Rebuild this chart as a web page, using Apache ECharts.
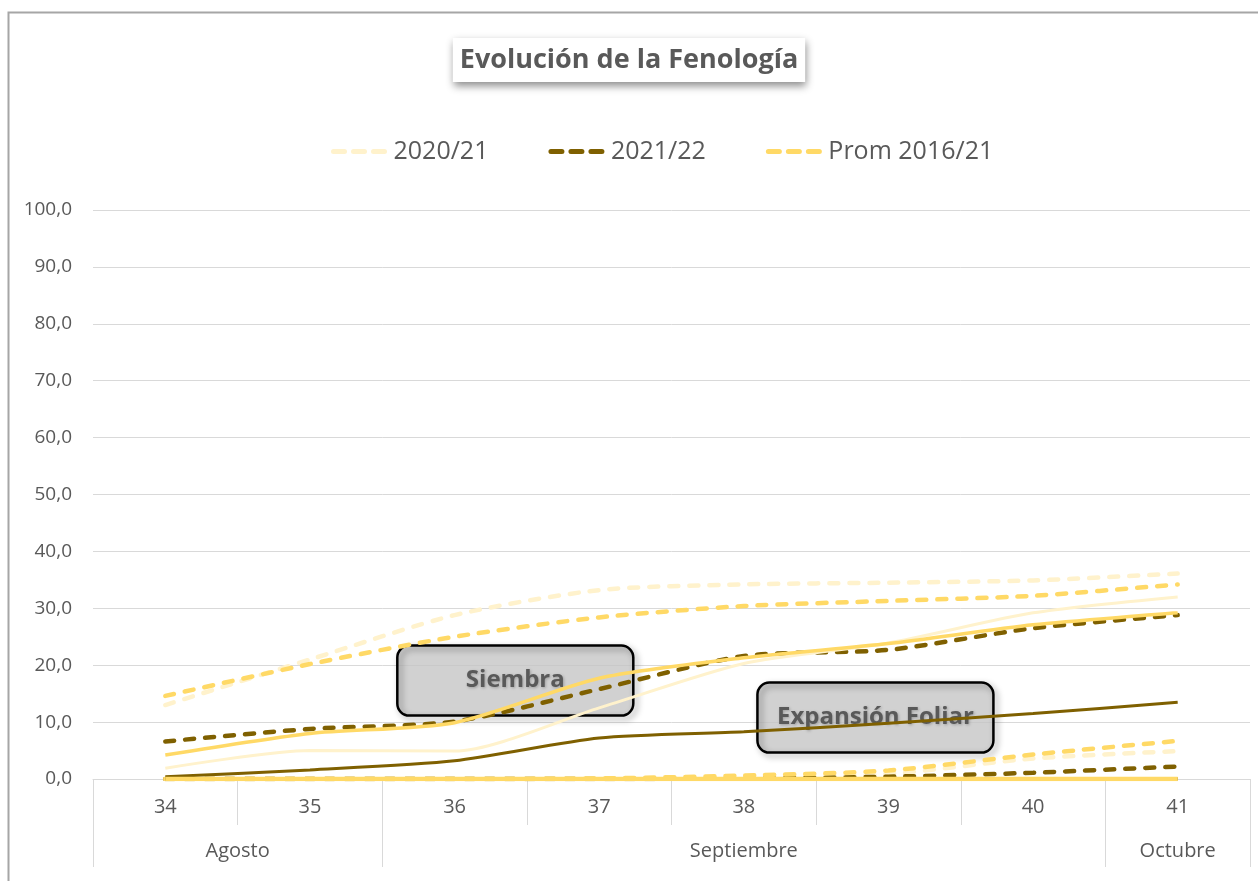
<!DOCTYPE html>
<html>
<head>
<meta charset="utf-8">
<script src="https://cdn.jsdelivr.net/npm/echarts@6/dist/echarts.min.js"></script>
<style>
html,body{margin:0;padding:0;background:#fff;}
#chart{width:1258px;height:881px;}
</style>
</head>
<body>
<div id="chart"></div>
<script>
// ---- data ----
const weeks = ['34', '35', '36', '37', '38', '39', '40', '41'];
const yTicks = [0, 10, 20, 30, 40, 50, 60, 70, 80, 90, 100];
const monthLabels = ['Agosto', 'Septiembre', 'Octubre'];
const monthCenters = [34.5, 38, 41];
const monthBounds = [33.5, 35.5, 40.5, 41.5];

// Siembra (dashed, upper group)
const siembra2020 = [13.0, 21.0, 28.8, 33.2, 34.2, 34.5, 34.9, 36.1];
const siembra2021 = [6.6, 8.8, 10.1, 15.8, 21.6, 22.7, 26.5, 28.8];
const siembraProm = [14.6, 20.2, 25.0, 28.4, 30.4, 31.3, 32.2, 34.2];

// Emergencia (solid, middle group)
const emerg2020 = [1.9, 5.0, 4.9, 12.5, 20.3, 23.9, 29.2, 32.0];
const emerg2021 = [0.4, 1.6, 3.2, 7.2, 8.3, 9.8, 11.5, 13.5];
const emergProm = [4.2, 8.0, 9.9, 17.7, 21.3, 23.8, 27.1, 29.2];

// Expansión foliar (dashed, lower group)
const expan2020 = [0, 0, 0, 0, 0.3, 0.9, 3.6, 4.9];
const expan2021 = [0, 0, 0, 0, 0.1, 0.4, 1.1, 2.2];
const expanProm = [0, 0, 0, 0.1, 0.6, 1.5, 4.3, 6.7];

// Later stage (solid, at zero)
const later2020 = [0, 0, 0, 0, 0, 0, 0, 0];
const later2021 = [0, 0, 0, 0, 0, 0, 0, 0];
const laterProm = [0, 0, 0, 0, 0, 0, 0, 0];

const seriesNames = ['2020/21', '2021/22', 'Prom 2016/21'];
const annotations = [
  { text: 'Siembra', x: 36.42, y: 17.3 },
  { text: 'Expansión Foliar', x: 38.91, y: 10.8 }
];

// ---- styles ----
const colors = { '2020/21': '#FFF2CC', '2021/22': '#7F6000', 'Prom 2016/21': '#FFD966' };
const FONT = '"Open Sans", "Noto Sans", sans-serif';
const TXT = '#595959';

function mk(name, data, dashed, width) {
  return {
    name: name,
    type: 'line',
    data: data,
    symbol: 'none',
    smooth: 0.25,
    xAxisIndex: 0,
    yAxisIndex: 0,
    lineStyle: {
      color: colors[name],
      width: width,
      type: dashed ? [9, 11] : 'solid',
      cap: dashed ? 'round' : 'butt'
    },
    itemStyle: { color: colors[name] },
    emphasis: { disabled: true },
    silent: true
  };
}

const series = [
  mk('2020/21', siembra2020, true, 4.5),
  mk('2021/22', siembra2021, true, 4.5),
  mk('Prom 2016/21', siembraProm, true, 4.5),
  mk('2020/21', expan2020, true, 4.5),
  mk('2021/22', expan2021, true, 4.5),
  mk('Prom 2016/21', expanProm, true, 4.5),
  mk('2020/21', emerg2020, false, 3),
  mk('2021/22', emerg2021, false, 3),
  mk('Prom 2016/21', emergProm, false, 3.5),
  mk('2020/21', later2020, false, 3.5),
  mk('2021/22', later2021, false, 3.5),
  mk('Prom 2016/21', laterProm, false, 4.5)
];

const chart = echarts.init(document.getElementById('chart'), null, { renderer: 'canvas' });

const option = {
  backgroundColor: '#ffffff',
  animation: false,
  title: {
    text: 'Evolución de la Fenología',
    left: 'center',
    top: 38,
    padding: [5, 7, 5, 7],
    backgroundColor: '#ffffff',
    shadowBlur: 8,
    shadowColor: 'rgba(0,0,0,0.45)',
    shadowOffsetX: 1,
    shadowOffsetY: 4,
    textStyle: { fontFamily: FONT, fontWeight: 'bold', fontSize: 27, color: TXT, lineHeight: 34 }
  },
  legend: {
    data: seriesNames,
    left: 326,
    top: 134,
    itemWidth: 55,
    itemHeight: 14,
    itemGap: 60,
    itemStyle: { opacity: 0 },
    lineStyle: { width: 5, type: [11, 9], cap: 'round' },
    textStyle: { fontFamily: FONT, fontSize: 25, color: TXT },
    selectedMode: false
  },
  grid: { left: 93, right: 8, top: 210, bottom: 102, containLabel: false },
  xAxis: [
    {
      type: 'category',
      data: weeks,
      boundaryGap: true,
      position: 'bottom',
      axisLine: { show: true, lineStyle: { color: '#D9D9D9', width: 1 } },
      axisTick: { show: true, interval: 0, length: 46, lineStyle: { color: '#D9D9D9' } },
      axisLabel: { interval: 0, margin: 18, fontFamily: FONT, fontSize: 20, color: TXT },
      splitLine: { show: false }
    },
    {
      type: 'value',
      min: 33.5,
      max: 41.5,
      position: 'bottom',
      axisLine: { show: false },
      splitLine: { show: false },
      axisTick: { show: true, customValues: monthBounds, length: 88, lineStyle: { color: '#D9D9D9' } },
      axisLabel: {
        show: true,
        customValues: monthCenters,
        margin: 62,
        fontFamily: FONT,
        fontSize: 20,
        color: TXT,
        formatter: function (v) {
          const i = monthCenters.indexOf(v);
          return i >= 0 ? monthLabels[i] : '';
        }
      }
    }
  ],
  yAxis: {
    type: 'value',
    min: yTicks[0],
    max: yTicks[yTicks.length - 1],
    interval: 10,
    axisLine: { show: false },
    axisTick: { show: false },
    splitLine: { show: true, lineStyle: { color: '#D9D9D9', width: 1 } },
    axisLabel: {
      margin: 21,
      fontFamily: FONT,
      fontSize: 19,
      color: TXT,
      formatter: function (v) { return v.toFixed(1).replace('.', ','); }
    }
  },
  series: series
};

chart.setOption(option);

// annotation boxes, positioned in data coordinates
const boxW = 236, boxH = 70;
const graphics = [
  {
    type: 'rect',
    left: 6, top: 10,
    shape: { x: 0, y: 0, width: 1300, height: 1000 },
    style: { fill: 'none', stroke: '#A6A6A6', lineWidth: 2 },
    silent: true,
    z: 100
  }
];
annotations.forEach(function (a) {
  const p = chart.convertToPixel({ xAxisIndex: 1, yAxisIndex: 0 }, [a.x, a.y]);
  graphics.push({
    type: 'group',
    x: p[0],
    y: p[1],
    z: 50,
    children: [
      {
        type: 'rect',
        shape: { x: -boxW / 2, y: -boxH / 2, width: boxW, height: boxH, r: 12 },
        style: { fill: 'rgba(196,196,196,0.78)' }
      },
      {
        type: 'rect',
        shape: { x: -boxW / 2, y: -boxH / 2, width: boxW, height: boxH, r: 12 },
        style: {
          fill: 'none',
          stroke: '#000000',
          lineWidth: 2.5,
          shadowBlur: 6,
          shadowColor: 'rgba(0,0,0,0.4)',
          shadowOffsetX: 3,
          shadowOffsetY: 3
        }
      },
      {
        type: 'text',
        x: 0,
        y: 0,
        style: {
          text: a.text,
          align: 'center',
          verticalAlign: 'middle',
          fontFamily: FONT,
          fontWeight: 'bold',
          fontSize: 24,
          fill: TXT,
          textShadowBlur: 3,
          textShadowColor: 'rgba(0,0,0,0.25)',
          textShadowOffsetX: 1,
          textShadowOffsetY: 1
        }
      }
    ]
  });
});
chart.setOption({ graphic: graphics });
</script>
</body>
</html>
